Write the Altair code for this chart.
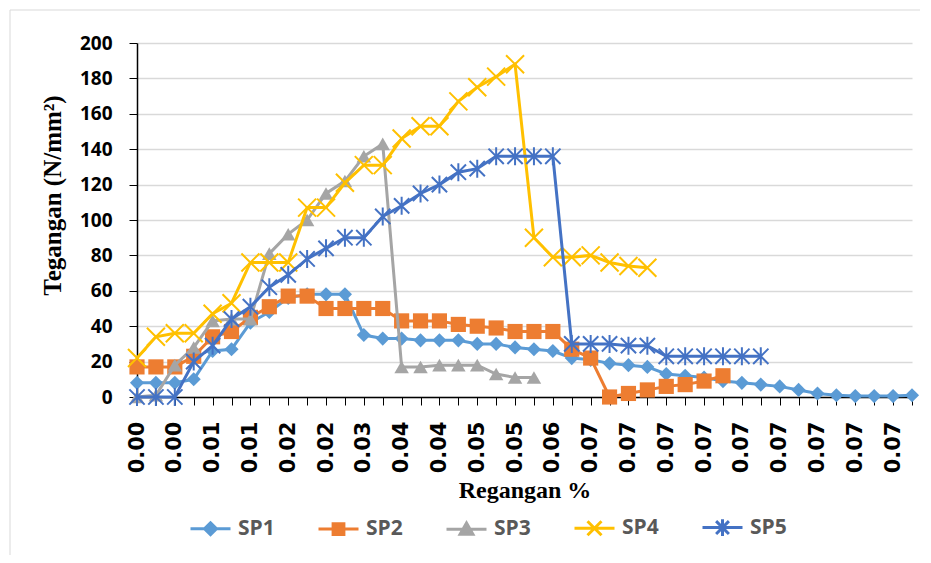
import json
import altair as alt
import pandas as pd

# ---- data ----
x_labels = ["0.00", "0.00", "0.01", "0.01", "0.02", "0.02", "0.03", "0.04", "0.04",
            "0.05", "0.05", "0.06", "0.07", "0.07", "0.07", "0.07", "0.07", "0.07",
            "0.07", "0.07", "0.07"]          # shown on every 2nd category
n_categories = 42

series_names = ["SP1", "SP2", "SP3", "SP4", "SP5"]
series_colors = ["#5B9BD5", "#ED7D31", "#A5A5A5", "#FFC000", "#4472C4"]

sp1 = [8, 8, 8, 10, 26, 27, 42, 48, 56, 58, 58, 58, 35, 33, 33, 32, 32, 32, 30, 30,
       28, 27, 26, 22, 21, 19, 18, 17, 13, 12, 11, 9, 8, 7, 6, 4, 2, 1, 0.5, 0.5, 0.5, 1]
sp2 = [17, 17, 17, 23, 34, 37, 45, 51, 57, 57, 50, 50, 50, 50, 43, 43, 43, 41, 40, 39,
       37, 37, 37, 27, 22, 0, 2, 4, 6, 7, 9, 12]
sp3 = [0, 1, 18, 28, 43, 44, 44, 81, 92, 100, 115, 122, 136, 143, 17, 17, 18, 18, 18,
       13, 11, 11]
sp4 = [22, 34, 36, 36, 47, 53, 76, 76, 76, 107, 107, 121, 131, 131, 146, 153, 153, 167,
       175, 181, 188, 90, 79, 79, 80, 76, 74, 73]
sp5 = [0, 0, 0, 20, 29, 44, 51, 62, 69, 78, 84, 90, 90, 102, 108, 115, 120, 127, 129,
       136, 136, 136, 136, 30, 30, 30, 29, 29, 23, 23, 23, 23, 23, 23]

series_values = [sp1, sp2, sp3, sp4, sp5]

rows = []
for name, vals in zip(series_names, series_values):
    for i, v in enumerate(vals):
        rows.append({"series": name, "i": i, "v": v})
df = pd.DataFrame(rows)

# ---- marker styles ----
X_PATH = "M-1,-1L1,1M-1,1L1,-1"
STAR_PATH = "M-0.85,-0.85L0.85,0.85M-0.85,0.85L0.85,-0.85M0,-1L0,1"
marker_styles = [
    dict(shape="diamond", size=200, filled=True, strokeWidth=0),
    dict(shape="square", size=230, filled=True, strokeWidth=0),
    dict(shape="triangle-up", size=210, filled=True, strokeWidth=0),
    dict(shape=X_PATH, size=324, filled=False, strokeWidth=2),
    dict(shape=STAR_PATH, size=324, filled=False, strokeWidth=2),
]
legend_paths = [
    "M-1,0L1,0M0,-0.3L0.3,0L0,0.3L-0.3,0Z",
    "M-1,0L1,0M-0.27,-0.27L0.27,-0.27L0.27,0.27L-0.27,0.27Z",
    "M-1,0L1,0M0,-0.32L0.32,0.24L-0.32,0.24Z",
    "M-1,0L1,0M-0.35,-0.35L0.35,0.35M-0.35,0.35L0.35,-0.35",
    "M-1,0L1,0M-0.32,-0.32L0.32,0.32M-0.32,0.32L0.32,-0.32M0,-0.42L0,0.42",
]

label_expr = ("datum.value % 2 == 0 ? " + json.dumps(x_labels) +
              "[datum.value / 2] : ''")

X = alt.X("i:Q",
          scale=alt.Scale(domain=[0, n_categories - 1], nice=False, zero=False),
          title="Regangan %",
          axis=alt.Axis(values=list(range(n_categories)), labelExpr=label_expr,
                        labelAngle=270, labelFont="DejaVu Sans", labelFontSize=21,
                        labelFontWeight="bold", labelColor="black", labelPadding=16,
                        labelOverlap=False, labelFlush=False,
                        tickSize=8, tickColor="black", domainColor="black",
                        domainWidth=1.5, grid=False,
                        titleFont="Liberation Serif", titleFontSize=24,
                        titleFontWeight="bold", titleColor="black",
                        titleBaseline="alphabetic", titleY=100))
Y = alt.Y("v:Q",
          scale=alt.Scale(domain=[0, 200], nice=False),
          title="Tegangan (N/mm²)",
          axis=alt.Axis(values=list(range(0, 201, 20)), labelFont="Open Sans",
                        labelFontSize=19, labelFontWeight="bold", labelColor="black",
                        labelPadding=17, tickSize=8, tickColor="black",
                        domainColor="black", domainWidth=1.5,
                        gridColor="#D9D9D9", gridWidth=1.5,
                        titleFont="Liberation Serif", titleFontSize=25,
                        titleFontWeight="bold", titleColor="black",
                        titleAngle=270, titleBaseline="alphabetic",
                        titleAlign="center", titleX=-77, titleY=152))

base = alt.Chart(df)
layers = []
for name, color, st in zip(series_names, series_colors, marker_styles):
    sub = base.transform_filter(alt.datum.series == name)
    layers.append(sub.mark_line(color=color, strokeWidth=3).encode(x=X, y=Y))
    layers.append(sub.mark_point(color=color, opacity=1, **st).encode(x=X, y=Y))

leg = dict(title=None, orient="none", legendX=52, legendY=463, direction="horizontal",
           symbolSize=1600, symbolStrokeWidth=3, labelFont="Open Sans",
           labelFontSize=21, labelFontWeight="bold", labelColor="#595959",
           labelOffset=6, columnPadding=37)
legend_layer = base.mark_point(filled=True, opacity=1).encode(
    x=X, y=Y,
    fill=alt.Fill("series:N", scale=alt.Scale(domain=series_names, range=series_colors),
                  legend=alt.Legend(**leg)),
    stroke=alt.Stroke("series:N", scale=alt.Scale(domain=series_names, range=series_colors),
                      legend=alt.Legend(**leg)),
    shape=alt.Shape("series:N", scale=alt.Scale(domain=series_names, range=legend_paths),
                    legend=alt.Legend(**leg)),
).transform_filter("false")

frame = alt.Chart(pd.DataFrame({"a": [0]})).mark_rect(
    filled=False, stroke="#D9D9D9", strokeWidth=1).encode(
    x=alt.value(-127), x2=alt.value(800), y=alt.value(-33), y2=alt.value(522))

chart = alt.layer(frame, *layers, legend_layer).properties(
    width=775, height=354,
    autosize=alt.AutoSizeParams(type="none"),
    padding={"left": 129, "top": 35, "right": 8, "bottom": 158},
).configure_view(strokeOpacity=0)

chart.save("out.html", embed_options={"renderer": "svg", "actions": False})
